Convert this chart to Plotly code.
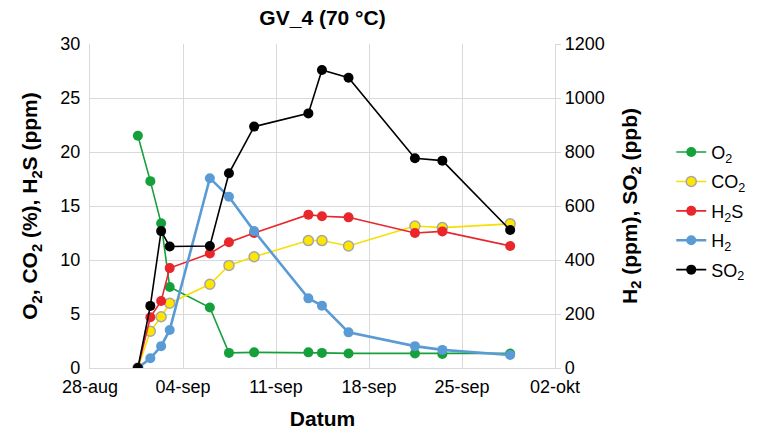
import plotly.graph_objects as go
from plotly.subplots import make_subplots

# ---- data ----
dates = ["2019-08-31 14:30", "2019-09-01 13:00", "2019-09-02 08:30", "2019-09-03 00:00",
         "2019-09-06 00:30", "2019-09-07 11:00", "2019-09-09 08:30", "2019-09-13 10:30",
         "2019-09-14 11:00", "2019-09-16 11:00", "2019-09-21 11:00", "2019-09-23 12:30",
         "2019-09-28 15:00"]
o2 = [21.5, 17.3, 13.4, 7.5, 5.6, 1.4, 1.45, 1.45, 1.4, 1.35, 1.35, 1.3, 1.35]
co2 = [0, 3.4, 4.75, 6.0, 7.75, 9.5, 10.3, 11.8, 11.8, 11.3, 13.15, 13.0, 13.35]
h2s = [0, 4.7, 6.2, 9.25, 10.6, 11.65, 12.5, 14.2, 14.05, 13.95, 12.5, 12.65, 11.3]
h2 = [0, 36, 81, 141, 703, 634, 507, 258, 231, 132, 81, 67, 48]
so2 = [0, 230, 507, 450, 452, 721, 894, 943, 1104, 1075, 777, 768, 511]

tick_dates = ["2019-08-28", "2019-09-04", "2019-09-11", "2019-09-18", "2019-09-25", "2019-10-02"]
tick_labels = ["28-aug", "04-sep", "11-sep", "18-sep", "25-sep", "02-okt"]

FONT = "Liberation Sans, Arial, sans-serif"
GRID = "#d9d9d9"

fig = make_subplots(specs=[[{"secondary_y": True}]])

def add(name, y, color, sec, lw=1.6, mcolor=None, mline=None):
    fig.add_trace(go.Scatter(
        x=dates, y=y, name=name, mode="lines+markers",
        line=dict(color=color, width=lw),
        marker=dict(size=10, color=mcolor or color,
                    line=dict(color=mline or (mcolor or color), width=1.5 if mline else 0)),
        legendgroup=name,
    ), secondary_y=sec)

add("O<sub>2</sub>", o2, "#16a03c", False)
add("CO<sub>2</sub>", co2, "#f5e000", False, mcolor="#ffe600", mline="#a6a6a6")
add("H<sub>2</sub>S", h2s, "#e8262b", False)
add("H<sub>2</sub>", h2, "#5b9bd5", True, lw=2.6)
add("SO<sub>2</sub>", so2, "#000000", True)

fig.update_layout(
    width=763, height=435,
    margin=dict(l=90, r=208, t=44, b=67),
    paper_bgcolor="white", plot_bgcolor="white",
    font=dict(family=FONT, size=18, color="#000"),
    title=dict(text="<b>GV_4 (70 °C)</b>", x=(90 + 555) / 2 / 763, xanchor="center",
               y=0.96, yanchor="middle", font=dict(size=21), automargin=False),
    legend=dict(x=1.25, xanchor="left", y=0.485, yanchor="middle",
                font=dict(size=18), tracegroupgap=3, bgcolor="rgba(0,0,0,0)"),
)

fig.update_xaxes(
    domain=[0, 1],
    type="date", range=[tick_dates[0], tick_dates[-1]],
    tickvals=tick_dates, ticktext=tick_labels,
    showgrid=True, gridcolor=GRID, gridwidth=1.3,
    showline=True, linecolor=GRID, linewidth=1.3,
    ticks="outside", ticklen=2, tickcolor="rgba(0,0,0,0)", automargin=False,
    title=dict(text="<b>Datum</b>", font=dict(size=21), standoff=15),
    zeroline=False,
)
fig.update_yaxes(
    range=[0, 30], dtick=5, showgrid=True, gridcolor=GRID, gridwidth=1.3,
    showline=True, linecolor=GRID, linewidth=1.3, zeroline=False,
    ticks="outside", ticklen=5, tickcolor="rgba(0,0,0,0)", automargin=False,
    title=dict(text="<b>O<sub>2</sub>, CO<sub>2</sub> (%), H<sub>2</sub>S (ppm)</b>",
               font=dict(size=21), standoff=16),
    secondary_y=False,
)
fig.update_yaxes(
    range=[0, 1200], dtick=200, showgrid=False,
    showline=True, linecolor=GRID, linewidth=1.3, zeroline=False,
    ticks="outside", ticklen=5, tickcolor=GRID, automargin=False,
    title=dict(text="<b>H<sub>2</sub> (ppm), SO<sub>2</sub> (ppb)</b>",
               font=dict(size=21), standoff=18),
    secondary_y=True,
)

fig.write_html("out.html", config={"displayModeBar": False},
               post_script="document.body.style.margin='0';")
